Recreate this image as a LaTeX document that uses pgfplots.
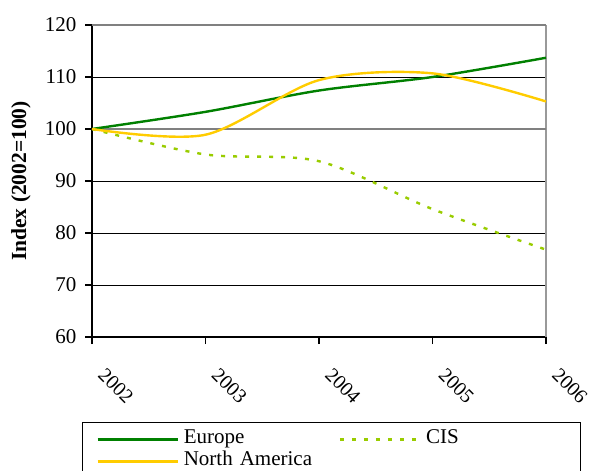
\documentclass[border=0pt]{standalone}
\usepackage{pgfplots}
\pgfplotsset{compat=1.18}
\usepackage{fontspec}
\setmainfont{Liberation Serif}
\definecolor{eur}{RGB}{0,128,0}
\definecolor{nam}{RGB}{255,204,0}
\definecolor{cis}{RGB}{153,204,0}
\begin{document}
\begin{tikzpicture}
\useasboundingbox (-92pt,-134pt) rectangle (498pt,337pt);
\begin{axis}[
  at={(0pt,0pt)}, anchor=south west,
  scale only axis, width=454pt, height=312pt,
  xmin=2002, xmax=2006, ymin=60, ymax=120,
  xtick={2002,2003,2004,2005,2006}, ytick={60,70,80,90,100,110,120},
  axis lines=left, axis line style={-, line width=1.6pt},
  tick align=outside, major tick length=7pt,
  tick style={black, line width=1.4pt},
  ymajorgrids, major grid style={black, line width=0.8pt},
  extra y ticks={100,120}, extra y tick labels={},
  extra y tick style={major tick length=0pt, major grid style={gray, line width=1.6pt}},
  extra x ticks={2006}, extra x tick labels={},
  extra x tick style={major tick length=0pt, grid=major, major grid style={gray!80, line width=2pt}},
  /pgf/number format/assume math mode=true,
  xticklabel={\pgfmathprintnumber[1000 sep={}]{\tick}},
  tick label style={font=\fontsize{21}{24}\selectfont},
  xticklabel style={font=\fontsize{20}{24}\selectfont, anchor=center, xshift=24pt, yshift=-42pt, rotate=-45},
  yticklabel style={xshift=-5pt},
  ylabel={Index (2002=100)},
  ylabel style={font=\bfseries\fontsize{21.5}{24}\selectfont, at={(axis description cs:0,0.5)}, anchor=center, yshift=71pt},
  legend columns=2,
  legend image code/.code={\draw[#1] (0pt,0pt) -- (80pt,0pt);},
  legend style={at={(axis description cs:0,0)}, anchor=north west, xshift=-10pt, yshift=-85pt,
    draw=black, line width=0.8pt, inner xsep=14pt, inner ysep=6pt,
    font=\fontsize{21}{24}\selectfont, row sep=0pt,
    nodes={inner sep=0pt, anchor=west, text height=15pt, text depth=7pt},
    /tikz/every odd column/.append style={column sep=5pt},
    /tikz/column 2/.style={text width=155pt},
    /tikz/column 4/.style={text width=140pt}},
]
\addplot[eur, line width=2.4pt, smooth] coordinates {(2002,100) (2003,103.3) (2004,107.4) (2005,110.0) (2006,113.7)};
\addlegendentry{Europe}
\addplot[cis, line width=2.4pt, smooth, dash pattern=on 4pt off 8pt] coordinates {(2002,100) (2003,95.1) (2004,93.8) (2005,84.6) (2006,76.8)};
\addlegendentry{CIS}
\addplot[nam, line width=2.4pt, smooth] coordinates {(2002,100) (2003,98.9) (2004,109.4) (2005,110.7) (2006,105.3)};
\addlegendentry{North America}
\end{axis}
\end{tikzpicture}
\end{document}
